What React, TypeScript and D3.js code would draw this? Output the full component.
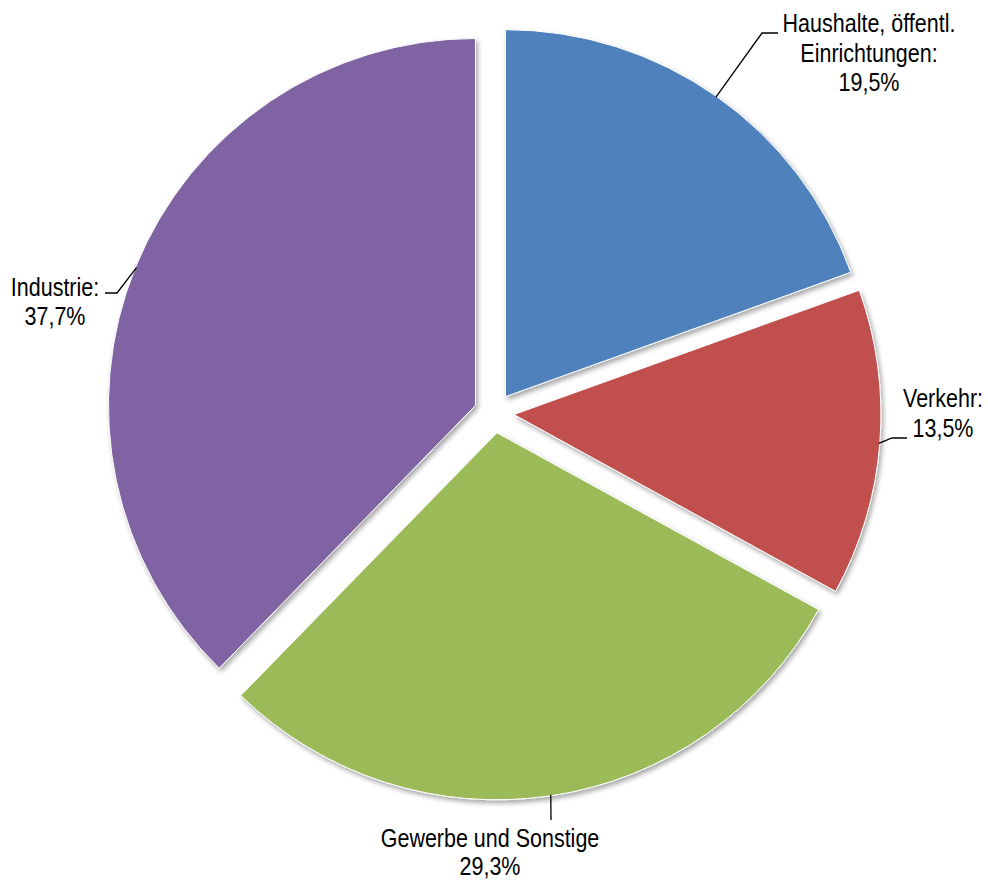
import React from "react";
import * as d3 from "d3";

const categories = ["Haushalte, öffentl. Einrichtungen", "Verkehr", "Gewerbe und Sonstige", "Industrie"];
const values = [19.5, 13.5, 29.3, 37.7];
const valueLabels = ["19,5%", "13,5%", "29,3%", "37,7%"];
const colors = ["#4F81BD", "#C0504D", "#9BBB59", "#8064A2"];
const labelLines = [
  ["Haushalte, öffentl.", "Einrichtungen:", valueLabels[0]],
  ["Verkehr:", valueLabels[1]],
  ["Gewerbe und Sonstige", valueLabels[2]],
  ["Industrie:", valueLabels[3]],
];

const W = 988;
const H = 880;
const CX = 494;
const CY = 413;
const R = 367;
const EXPLODE = 20;

const labelLayout = [
  { x: 869, y: 32, lh: 29.5, leader: [[762, 33], [778, 33]] },
  { x: 943, y: 407, lh: 30, leader: [[892, 438], [907, 438]] },
  { x: 490, y: 847, lh: 28, leader: [[551, 820]] },
  { x: 55, y: 296, lh: 29, leader: [[117, 293], [105, 293]] },
];

export default function App() {
  const pie = d3.pie<number>().sort(null).startAngle(0).endAngle(2 * Math.PI)(values);
  const arc = d3.arc<d3.PieArcDatum<number>>().innerRadius(0).outerRadius(R);
  const fontScale = 0.86;

  return (
    <svg width={W} height={H} style={{ position: "absolute", left: 0, top: 0, background: "#fff" }}>
      <defs>
        <filter id="shadow" x="-10%" y="-10%" width="130%" height="130%">
          <feGaussianBlur in="SourceAlpha" stdDeviation="2.5" />
          <feOffset dx="2" dy="3" result="ob" />
          <feComponentTransfer>
            <feFuncA type="linear" slope="0.35" />
          </feComponentTransfer>
          <feMerge>
            <feMergeNode />
            <feMergeNode in="SourceGraphic" />
          </feMerge>
        </filter>
      </defs>
      {pie.map((p, i) => {
        const mid = (p.startAngle + p.endAngle) / 2;
        const ox = CX + EXPLODE * Math.sin(mid);
        const oy = CY - EXPLODE * Math.cos(mid);
        return (
          <g key={categories[i]} transform={`translate(${ox},${oy})`}>
            <path d={arc(p) || ""} fill={colors[i]} stroke="#ffffff" strokeWidth={1} filter="url(#shadow)" />
          </g>
        );
      })}
      {pie.map((p, i) => {
        const mid = (p.startAngle + p.endAngle) / 2;
        const ox = CX + EXPLODE * Math.sin(mid);
        const oy = CY - EXPLODE * Math.cos(mid);
        const sx = ox + (R - 1) * Math.sin(mid);
        const sy = oy - (R - 1) * Math.cos(mid);
        const L = labelLayout[i];
        const pts = [[sx, sy], ...L.leader];
        const line = d3.line()(pts as [number, number][]) || "";
        return (
          <g key={"lab" + i}>
            <path d={line} fill="none" stroke="#000" strokeWidth={1.3} />
            {labelLines[i].map((t, j) => (
              <text
                key={j}
                transform={`translate(${L.x},${L.y + j * L.lh}) scale(${fontScale},1)`}
                textAnchor="middle"
                fontFamily="'Liberation Sans', Arial, sans-serif"
                fontSize={25}
                fill="#000"
              >
                {t}
              </text>
            ))}
          </g>
        );
      })}
    </svg>
  );
}
